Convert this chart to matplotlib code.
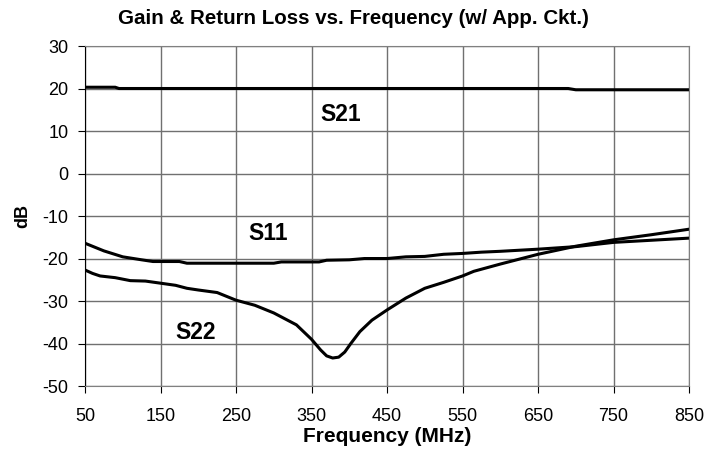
import numpy as np
import matplotlib.pyplot as plt

plt.rcParams['font.family'] = ['Liberation Sans', 'DejaVu Sans']
plt.rcParams['axes.unicode_minus'] = False

# frequency in MHz, values in dB
freq_s21 = [50, 90, 95, 690, 700, 850]
s21 = [20.3, 20.3, 20.0, 20.0, 19.7, 19.7]

freq_s11 = [50, 75, 100, 125, 140, 175, 185, 300, 310, 360, 370, 400, 420, 450,
            475, 500, 525, 550, 575, 600, 650, 700, 750, 800, 850]
s11 = [-16.4, -18.2, -19.6, -20.3, -20.7, -20.7, -21.1, -21.1, -20.8, -20.8, -20.4,
       -20.3, -20.0, -20.0, -19.6, -19.5, -19.0, -18.8, -18.5, -18.3, -17.8, -17.2,
       -16.2, -15.7, -15.2]

freq_s22 = [50, 60, 70, 90, 110, 130, 150, 170, 185, 200, 225, 250, 275, 300, 330,
            350, 362, 370, 378, 386, 394, 402, 414, 430, 450, 475, 500, 525, 550,
            565, 600, 650, 700, 750, 800, 850]
s22 = [-22.7, -23.5, -24.1, -24.5, -25.2, -25.3, -25.8, -26.3, -27.0, -27.4, -28.0,
       -29.8, -31.0, -32.8, -35.6, -39.0, -41.5, -42.9, -43.4, -43.2, -42.0, -40.0,
       -37.2, -34.5, -32.1, -29.3, -27.0, -25.6, -24.1, -23.0, -21.3, -19.0, -17.1,
       -15.6, -14.4, -13.1]

x_ticks = [50, 150, 250, 350, 450, 550, 650, 750, 850]
y_ticks = [-50, -40, -30, -20, -10, 0, 10, 20, 30]

fig = plt.figure(figsize=(7.06, 4.51), dpi=100)
ax = fig.add_axes([0.1204, 0.144, 0.8556, 0.754])

ax.plot(freq_s21, s21, color='black', lw=2.2)
ax.plot(freq_s11, s11, color='black', lw=2.2)
ax.plot(freq_s22, s22, color='black', lw=2.2)

ax.set_xlim(50, 850)
ax.set_ylim(-50, 30)
ax.set_xticks(x_ticks)
ax.set_yticks(y_ticks)
ax.grid(True, color='#707070', lw=1)
ax.set_axisbelow(True)
for s in ax.spines.values():
    s.set_color('#808080')
ax.spines['left'].set_color('black')
ax.tick_params(direction='out', length=5, labelsize=13, color='black')
ax.tick_params(axis='x', pad=11)
ax.tick_params(axis='y', pad=7)

ax.text(388, 13.8, 'S21', fontsize=16.5, fontweight='bold', ha='center', va='center')
ax.text(292, -14, 'S11', fontsize=16.5, fontweight='bold', ha='center', va='center')
ax.text(196, -37.5, 'S22', fontsize=16.5, fontweight='bold', ha='center', va='center')

ax.set_xlabel('Frequency (MHz)', fontsize=15, fontweight='bold', labelpad=1)
ax.set_ylabel('dB', fontsize=13, fontweight='bold', labelpad=8)
fig.text(0.5, 0.96, 'Gain & Return Loss vs. Frequency (w/ App. Ckt.)',
         fontsize=14.8, fontweight='bold', ha='center', va='center')

fig.savefig('out.png', dpi=100)
